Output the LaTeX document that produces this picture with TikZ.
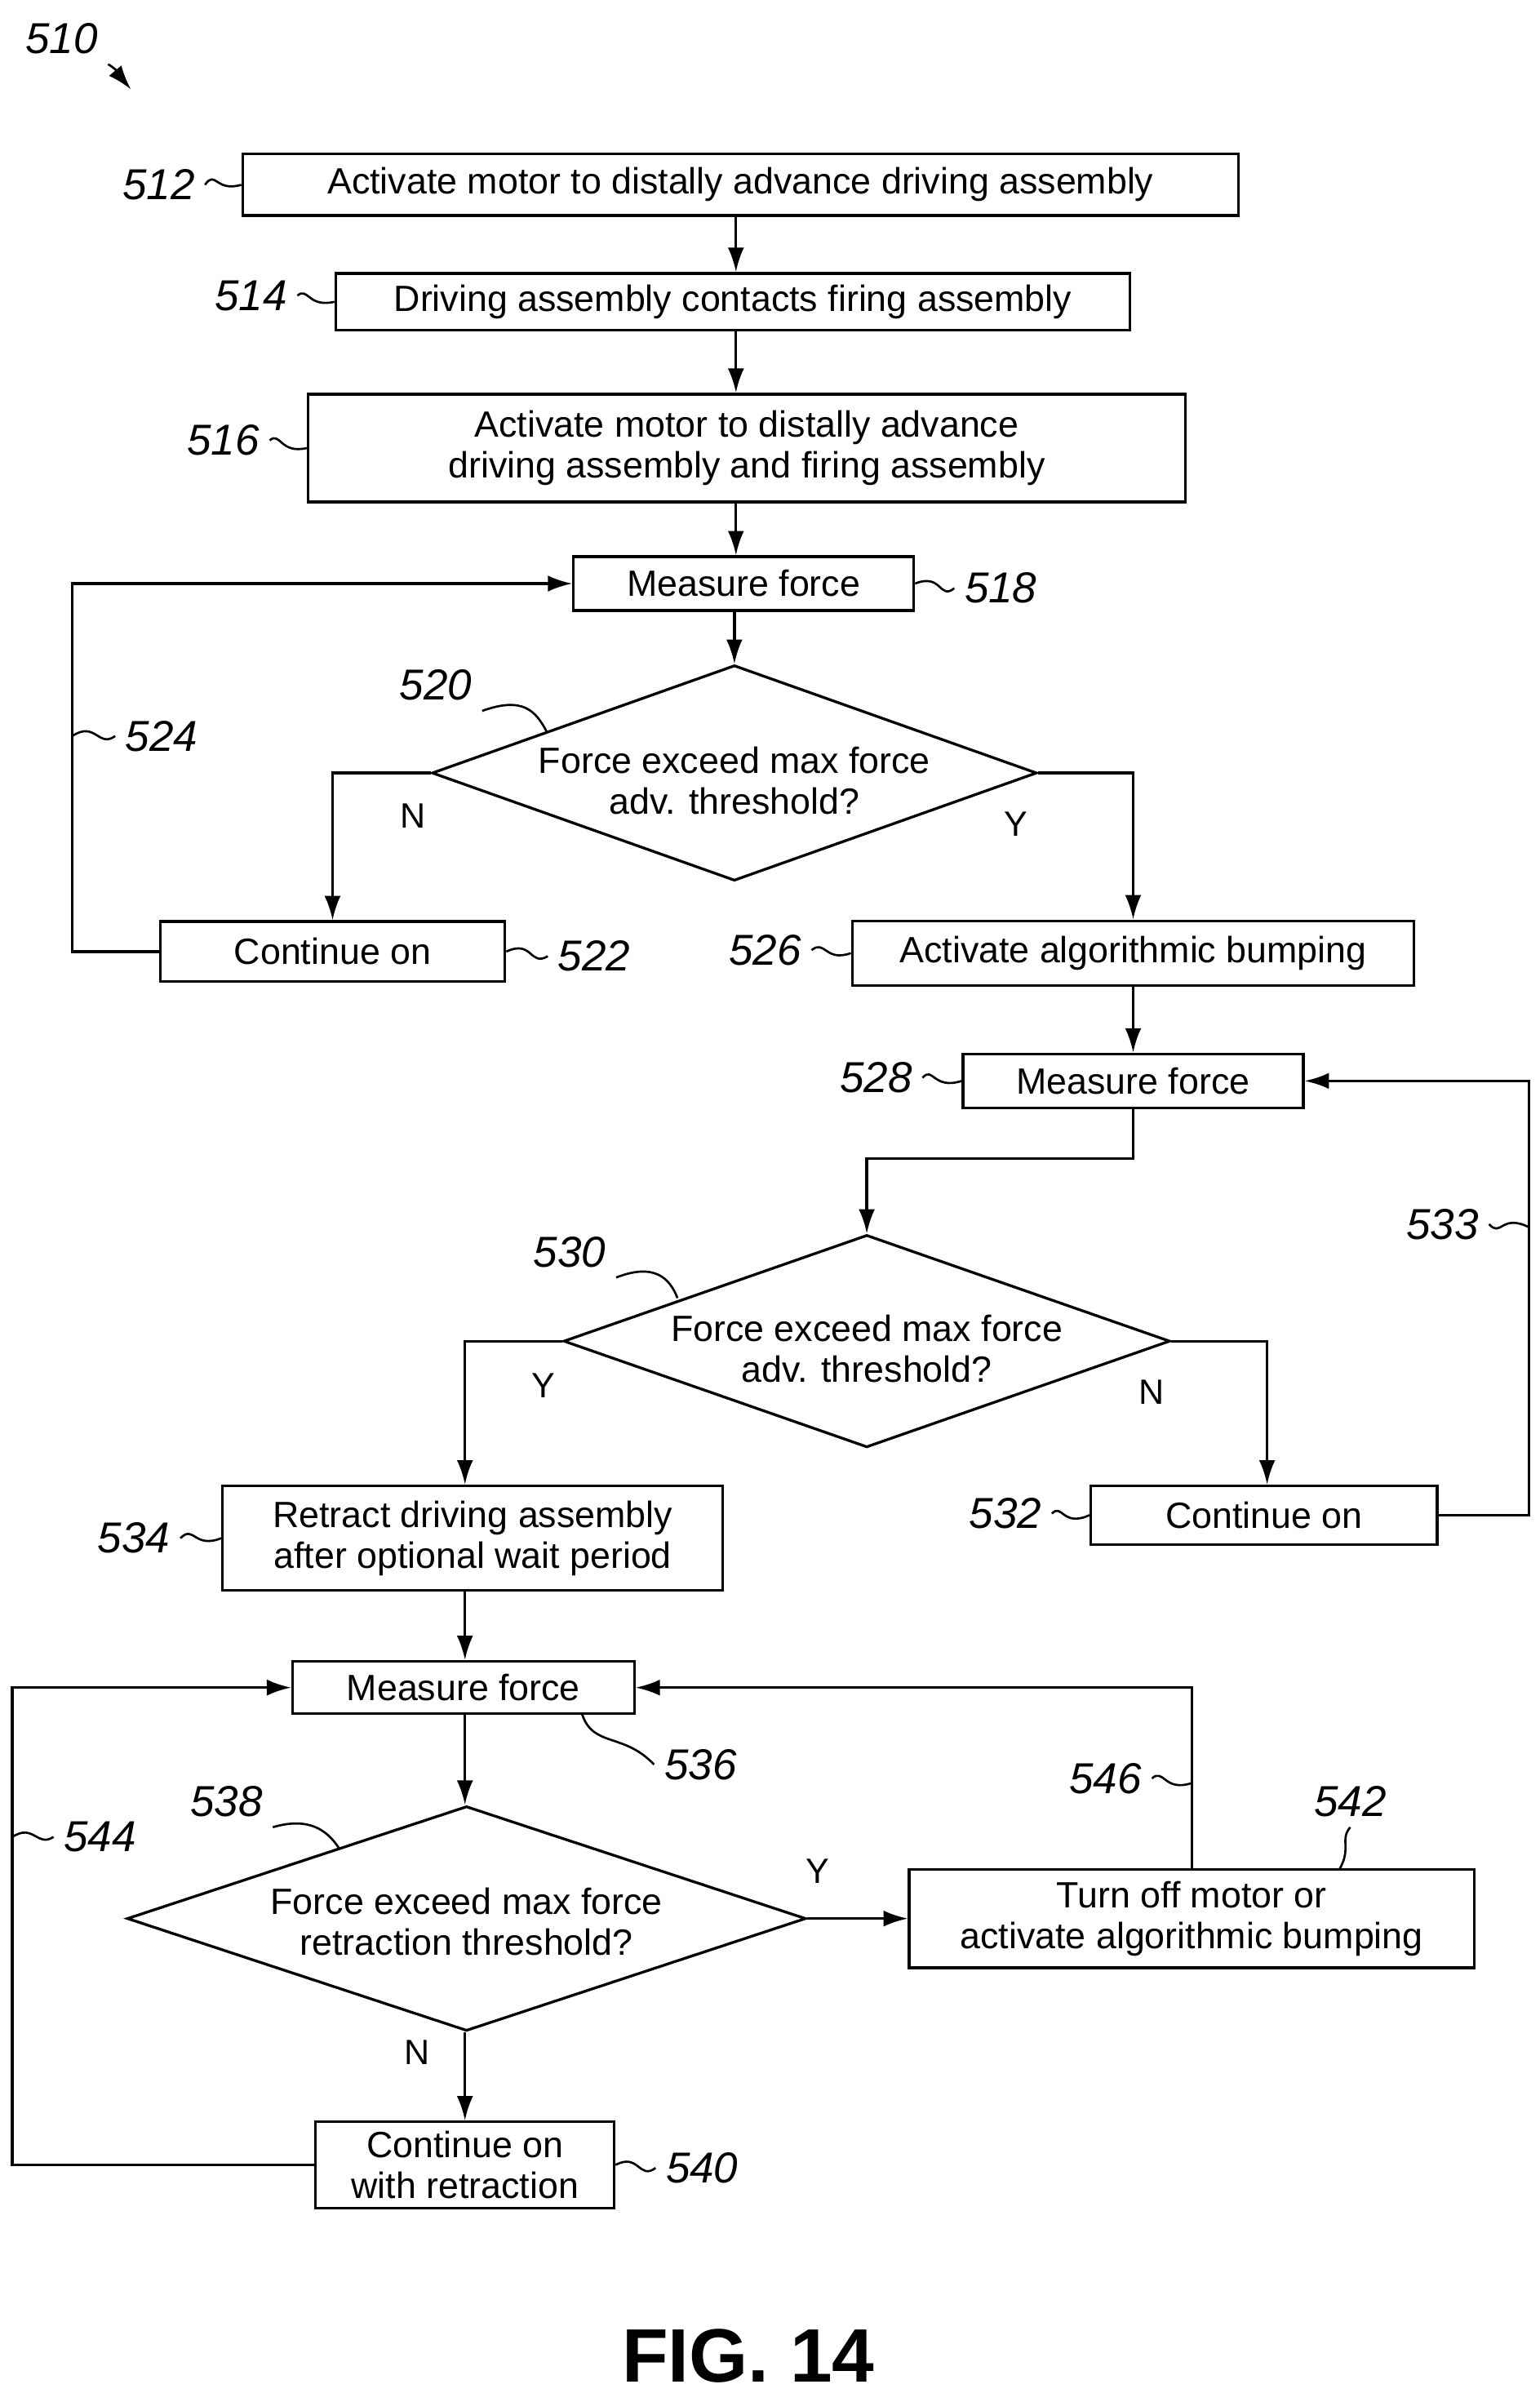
\documentclass[tikz,border=0pt]{standalone}
\usepackage{fontspec}
\setmainfont{Liberation Sans}
\usetikzlibrary{positioning}
\usetikzlibrary{calc}
\usetikzlibrary{shapes.geometric}
\usetikzlibrary{arrows.meta}
\tikzset{
	every path/.style={line width=1pt},
	box/.style={draw,rectangle,inner sep=0pt,align=center,font=\fontsize{13.5}{15}\selectfont},
	dia/.style={draw,diamond,inner sep=0pt},
	txt/.style={align=center,font=\fontsize{13.5}{15}\selectfont},
	num/.style={font=\fontsize{16}{18}\selectfont\itshape},
	yn/.style={font=\fontsize{13}{15}\selectfont},
	flow/.style={-{Latex[length=9pt,width=6pt]}},
	lead/.style={line width=0.8pt},
}
\begin{document}
\begin{tikzpicture}[x=0.02cm,y=-0.02cm]
		\useasboundingbox (0,0) rectangle (1000,1560);
		
		%title number.....................
		\node [num] (l510) at (40,25) {510};
		\coordinate (t510) at (85,58);
		\draw [flow,lead] (l510.south east) to[out=-30,in=130] (t510);
		
		%upper boxes......................
		\node [box,minimum width=12.94cm,minimum height=0.8cm] (b512) at (481,120) {Activate motor to distally advance driving assembly};
		\node [box,minimum width=10.32cm,minimum height=0.74cm] (b514) at (476,196) {Driving assembly contacts firing assembly};
		\node [box,minimum width=11.4cm,minimum height=1.4cm] (b516) at (485,291) {Activate motor to distally advance\\driving assembly and firing assembly};
		\node [box,minimum width=4.42cm,minimum height=0.7cm] (b518) at (483,379) {Measure force};
		
		%first decision...................
		\node [dia,minimum width=7.86cm,minimum height=2.8cm] (d520) at (477,502) {};
		\node [txt] (t520) at (477,507) {Force exceed max force\\adv. threshold?};
		\node [box,minimum width=4.48cm,minimum height=0.78cm] (b522) at (216,618) {Continue on};
		\node [box,minimum width=7.3cm,minimum height=0.84cm] (b526) at (736,619) {Activate algorithmic bumping};
		\node [box,minimum width=4.42cm,minimum height=0.7cm] (b528) at (736,702) {Measure force};
		
		%second decision..................
		\node [dia,minimum width=7.88cm,minimum height=2.76cm] (d530) at (563,871) {};
		\node [txt] (t530) at (563,876) {Force exceed max force\\adv. threshold?};
		\node [box,minimum width=6.5cm,minimum height=1.36cm] (b534) at (307,999) {Retract driving assembly\\after optional wait period};
		\node [box,minimum width=4.5cm,minimum height=0.76cm] (b532) at (821,984) {Continue on};
		
		%retraction......................
		\node [box,minimum width=4.44cm,minimum height=0.68cm] (b536) at (301,1096) {Measure force};
		\node [dia,minimum width=8.82cm,minimum height=2.92cm] (d538) at (303,1246) {};
		\node [txt] (t538) at (303,1248) {Force exceed max force\\retraction threshold?};
		\node [box,minimum width=7.34cm,minimum height=1.28cm] (b542) at (774,1246) {Turn off motor or\\activate algorithmic bumping};
		\node [box,minimum width=3.88cm,minimum height=1.12cm] (b540) at (302,1406) {Continue on\\with retraction};
		
		% figure label....................
		\node [font=\fontsize{28}{30}\selectfont\bfseries] (fig) at (486,1530) {FIG. 14};
		
		% straight flow...................
		\draw [flow] (b512.south -| 478,0) -- (b514.north -| 478,0);
		\draw [flow] (b514.south -| 478,0) -- (b516.north -| 478,0);
		\draw [flow] (b516.south -| 478,0) -- (b518.north -| 478,0);
		\draw [flow] (b518.south -| 477,0) -- (d520.north);
		\draw [flow] (d520.west) -| (b522.north);
		\draw [flow] (d520.east) -| (b526.north);
		\draw [flow] (b526) -- (b528);
		\draw [flow] (b528.south) -- ++(0,32) -| (d530.north);
		\draw [flow] (d530.west) -| (b534.north -| 302,0);
		\draw [flow] (d530.east) -| (b532.north -| 823,0);
		\draw [flow] (b534.south -| 302,0) -- (b536.north -| 302,0);
		\draw [flow] (b536.south -| 302,0) -- (d538.north -| 302,0);
		\draw [flow] (d538) -- (b542);
		\draw [flow] (d538.south -| 302,0) -- (b540.north -| 302,0);
		
		% loops..........................
		\draw [flow] (b522.west) -- (47,618) |- (b518.west);
		\draw [flow] (b532.east) -- (993,984) |- (b528.east);
		\draw [flow] (b540.west) -- (8,1406) |- (b536.west);
		\draw [flow] (b542.north) |- (b536.east);
		
		% Y/N labels......................
		\node [yn] (n520) at (268,530) {N};
		\node [yn] (y520) at (660,535) {Y};
		\node [yn] (y530) at (353,900) {Y};
		\node [yn] (n530) at (748,904) {N};
		\node [yn] (y538) at (531,1215) {Y};
		\node [yn] (n538) at (271,1333) {N};
		
		% reference numbers...............
		\node [num] (l512) at (103,120) {512};
		\draw [lead] (l512.east) .. controls (140,110) and (140,125) .. (b512.west);
		\node [num] (l514) at (163,192) {514};
		\draw [lead] (l514.east) .. controls (200,186) and (200,200) .. (b514.west);
		\node [num] (l516) at (145,286) {516};
		\draw [lead] (l516.east) .. controls (182,280) and (182,295) .. (b516.west);
		\node [num] (l518) at (650,382) {518};
		\draw [lead] (b518.east) .. controls (612,372) and (610,390) .. (l518.west);
		\node [num] (l520) at (283,445) {520};
		\draw [lead] (l520.south east) .. controls (340,452) and (348,462) .. (355,475);
		\node [num] (l522) at (386,621) {522};
		\draw [lead] (b522.east) .. controls (346,610) and (344,628) .. (l522.west);
		\node [num] (l524) at (105,478) {524};
		\draw [lead] (47,478) .. controls (62,468) and (64,486) .. (l524.west);
		\node [num] (l526) at (497,617) {526};
		\draw [lead] (l526.east) .. controls (536,610) and (536,625) .. (b526.west);
		\node [num] (l528) at (569,700) {528};
		\draw [lead] (l528.east) .. controls (606,692) and (606,708) .. (b528.west);
		\node [num] (l530) at (370,813) {530};
		\draw [lead] (l530.south east) .. controls (425,820) and (435,830) .. (440,843);
		\node [num] (l532) at (653,983) {532};
		\draw [lead] (l532.east) .. controls (690,976) and (690,992) .. (b532.west);
		\node [num] (l533) at (937,795) {533};
		\draw [lead] (l533.east) .. controls (975,804) and (975,788) .. (993,797);
		\node [num] (l534) at (87,999) {534};
		\draw [lead] (l534.east) .. controls (126,990) and (126,1006) .. (b534.west);
		\node [num] (l536) at (455,1146) {536};
		\draw [lead] (378,1113) .. controls (385,1135) and (405,1125) .. (l536.west);
		\node [num] (l538) at (147,1170) {538};
		\draw [lead] (l538.south east) .. controls (200,1180) and (212,1188) .. (220,1200);
		\node [num] (l540) at (456,1408) {540};
		\draw [lead] (b540.east) .. controls (415,1398) and (415,1416) .. (l540.west);
		\node [num] (l542) at (877,1170) {542};
		\draw [lead] (l542.south) .. controls (870,1195) and (878,1200) .. (870,1214);
		\node [num] (l544) at (65,1193) {544};
		\draw [lead] (8,1193) .. controls (22,1184) and (24,1200) .. (l544.west);
		\node [num] (l546) at (718,1155) {546};
		\draw [lead] (l546.east) .. controls (756,1148) and (756,1164) .. (774,1158);
		
	\end{tikzpicture}
\end{document}
